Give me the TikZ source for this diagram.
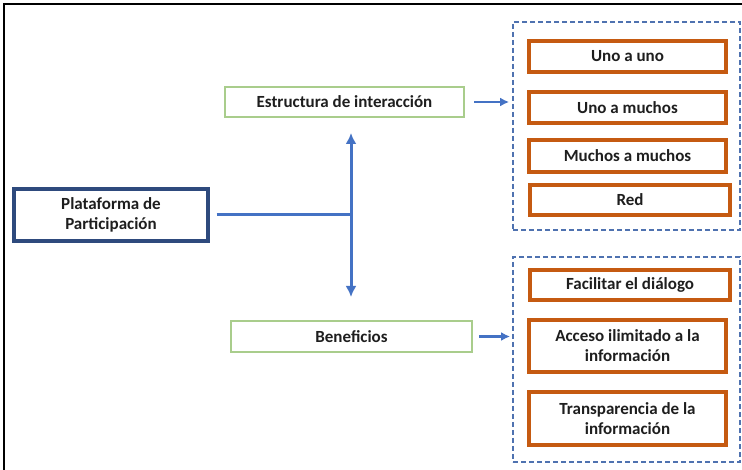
\documentclass[tikz,border=0pt]{standalone}
\usepackage{fontspec}
\setmainfont{Carlito}
\usetikzlibrary{arrows.meta}
\definecolor{navy}{HTML}{2E4A7D}
\definecolor{linkblue}{HTML}{4472C4}
\definecolor{leaf}{HTML}{A9CD8C}
\definecolor{rust}{HTML}{C55A11}
\definecolor{groupblue}{HTML}{4F72B0}
\definecolor{ink}{HTML}{1E1E1E}
\tikzset{
  label/.style={font=\fontsize{17}{20}\selectfont\bfseries, text=ink, align=center, inner sep=0pt},
  rootbox/.style={label, draw=navy, line width=3.2pt, minimum width=194pt, minimum height=52pt},
  topicbox/.style={label, draw=leaf, line width=2.6pt, minimum height=30pt},
  itembox/.style={label, draw=rust, line width=3.2pt, minimum width=197pt},
  groupbox/.style={draw=groupblue, line width=1.8pt, dash pattern=on 5pt off 3pt},
  link/.style={draw=linkblue, line width=3pt},
  linkarrow/.style={link, -{Latex[length=11pt,width=11pt]}},
}
\begin{document}
\begin{tikzpicture}[x=1pt,y=-1pt]
  \useasboundingbox (0,0) rectangle (742,470);
  \fill[white] (0,0) rectangle (742,470);
  % outer frame
  \draw[black, line width=2.4pt] (4,470) -- (4,4) -- (742,4);

  % main concept
  \node[rootbox] (plat) at (111,215) {Plataforma de\\Participación};

  % two topics
  \node[topicbox, minimum width=239pt] (est) at (344.5,102) {Estructura de interacción};
  \node[topicbox, minimum width=241pt, minimum height=31pt] (ben) at (351.5,336.5) {Beneficios};

  % groups
  \node[groupbox, minimum width=227pt, minimum height=208pt] (g1) at (626.5,126) {};
  \node[groupbox, minimum width=227pt, minimum height=205pt] (g2) at (626.5,359.5) {};

  % items of the first group
  \node[itembox, minimum height=31pt] (i1) at (627.5,56.5) {Uno a uno};
  \node[itembox, minimum height=31pt] (i2) at (627.5,107.5) {Uno a muchos};
  \node[itembox, minimum height=32pt] (i3) at (627.5,156) {Muchos a muchos};
  \node[itembox, minimum width=200pt, minimum height=30pt] (i4) at (630,200) {Red};

  % items of the second group
  \node[itembox, minimum width=200pt, minimum height=30pt] (b1) at (630,285) {Facilitar el diálogo};
  \node[itembox, minimum height=52pt] (b2) at (627.5,346) {Acceso ilimitado a la\\información};
  \node[itembox, minimum height=53pt] (b3) at (627.5,418.5) {Transparencia de la\\información};

  % connectors
  \coordinate (j) at (351,215);
  \coordinate (up) at (351,133);
  \coordinate (down) at (351,297);
  \draw[link, shorten <=7pt] (plat.east) -- (j);
  \draw[linkarrow] (j) -- (up);
  \draw[linkarrow] (j) -- (down);
  \draw[linkarrow, line width=2.6pt, -{Latex[length=9pt,width=9pt]}, shorten <=9pt, shorten >=3pt] (est.east) -- (est.east -| g1.west);
  \draw[linkarrow, line width=2.6pt, -{Latex[length=9pt,width=9pt]}, shorten <=6pt, shorten >=2pt] (ben.east) -- (ben.east -| g2.west);
\end{tikzpicture}
\end{document}
